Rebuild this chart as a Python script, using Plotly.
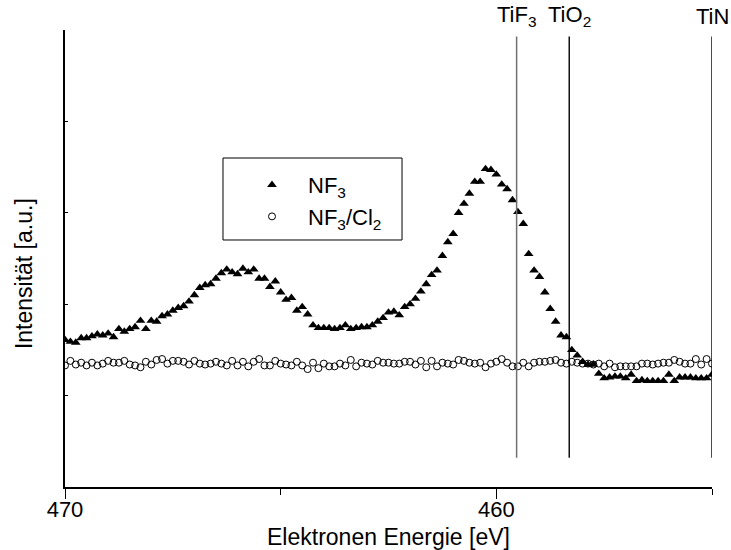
import plotly.graph_objects as go

# Ti 2p binding-energy scan: 470 eV down to 455 eV, 0.125 eV steps
E_START = 470.0
E_STEP = 0.125
N_POINTS = 121
energy = [round(E_START - E_STEP * i, 3) for i in range(N_POINTS)]

# NF3-treated sample (arbitrary intensity units)
nf3 = [
    1.61, 1.59, 1.58, 1.63, 1.63, 1.65, 1.67, 1.66, 1.68, 1.64,
    1.73, 1.70, 1.73, 1.75, 1.82, 1.73, 1.82, 1.81, 1.87, 1.89,
    1.93, 1.96, 1.98, 2.03, 2.10, 2.18, 2.21, 2.22, 2.28, 2.34,
    2.38, 2.35, 2.33, 2.39, 2.35, 2.38, 2.28, 2.28, 2.19, 2.25,
    2.13, 2.05, 2.07, 1.93, 1.97, 1.89, 1.77, 1.74, 1.74, 1.74,
    1.73, 1.74, 1.77, 1.73, 1.74, 1.75, 1.75, 1.77, 1.81, 1.85,
    1.91, 1.92, 1.88, 1.97, 2.00, 2.06, 2.14, 2.22, 2.32, 2.37,
    2.53, 2.68, 2.77, 3.00, 3.10, 3.21, 3.34, 3.34, 3.48, 3.47,
    3.42, 3.31, 3.26, 3.14, 3.01, 2.88, 2.55, 2.37, 2.30, 2.13,
    1.95, 1.81, 1.66, 1.64, 1.50, 1.44, 1.37, 1.34, 1.34, 1.24,
    1.19, 1.20, 1.21, 1.21, 1.19, 1.23, 1.16, 1.17, 1.16, 1.16,
    1.16, 1.16, 1.23, 1.16, 1.20, 1.20, 1.20, 1.19, 1.19, 1.19,
    1.23,
]

# NF3/Cl2-treated sample
nf3_cl2 = [
    1.33, 1.38, 1.34, 1.36, 1.33, 1.36, 1.33, 1.35, 1.38, 1.36,
    1.36, 1.38, 1.34, 1.33, 1.31, 1.37, 1.34, 1.39, 1.40, 1.35,
    1.38, 1.38, 1.37, 1.34, 1.38, 1.35, 1.34, 1.35, 1.37, 1.35,
    1.33, 1.38, 1.33, 1.37, 1.32, 1.37, 1.40, 1.33, 1.33, 1.38,
    1.35, 1.34, 1.33, 1.37, 1.33, 1.29, 1.36, 1.30, 1.35, 1.32,
    1.32, 1.35, 1.33, 1.39, 1.32, 1.36, 1.35, 1.34, 1.38, 1.36,
    1.36, 1.35, 1.35, 1.37, 1.37, 1.34, 1.38, 1.31, 1.38, 1.32,
    1.36, 1.35, 1.34, 1.39, 1.38, 1.36, 1.35, 1.36, 1.31, 1.35,
    1.37, 1.40, 1.36, 1.32, 1.32, 1.36, 1.32, 1.36, 1.37, 1.37,
    1.38, 1.39, 1.36, 1.35, 1.37, 1.36, 1.35, 1.35, 1.34, 1.35,
    1.32, 1.35, 1.31, 1.32, 1.32, 1.32, 1.32, 1.35, 1.35, 1.34,
    1.35, 1.36, 1.36, 1.39, 1.37, 1.35, 1.35, 1.40, 1.34, 1.40,
    1.35,
]

# Reference binding energies
ref_labels = ["TiF<sub>3</sub>", "TiO<sub>2</sub>", "TiN"]
ref_energy = [459.53, 458.31, 455.0]
ref_colors = ["#707070", "#000000", "#000000"]
ref_widths = [1.5, 1.4, 1.4]

FONT = "Liberation Sans, Arial, sans-serif"

fig = go.Figure()
fig.add_trace(go.Scatter(
    x=energy, y=nf3, mode="markers", name="NF<sub>3</sub>",
    marker=dict(symbol="triangle-up", size=8.5, color="black", line=dict(width=0)),
))
fig.add_trace(go.Scatter(
    x=energy, y=nf3_cl2, mode="markers", name="NF<sub>3</sub>/Cl<sub>2</sub>",
    marker=dict(symbol="circle-open", size=7, color="black", line=dict(width=1)),
))

for lab, e, c, w in zip(ref_labels, ref_energy, ref_colors, ref_widths):
    fig.add_shape(type="line", xref="x", yref="y", x0=e, x1=e, y0=0.32, y1=4.93,
                  line=dict(color=c, width=w))
    fig.add_annotation(x=e, xref="x", y=1, yref="paper", text=lab, showarrow=False,
                       xanchor="center", yanchor="middle", yshift=14,
                       font=dict(family=FONT, size=22, color="black"))

# legend frame
fig.add_shape(type="rect", xref="paper", yref="paper",
              x0=0.2442, x1=0.5209, y0=0.5405, y1=0.7199,
              line=dict(color="black", width=1), fillcolor="rgba(0,0,0,0)")

# rotated y-axis title
fig.add_annotation(x=-0.0634, xref="paper", y=0.468, yref="paper",
                   text="Intensität [a.u.]", textangle=-90, showarrow=False,
                   xanchor="center", yanchor="middle",
                   font=dict(family=FONT, size=23, color="black"))

fig.update_layout(
    width=731, height=550,
    margin=dict(l=65, r=19, t=30, b=63),
    paper_bgcolor="white", plot_bgcolor="white",
    font=dict(family=FONT, size=22, color="black"),
    showlegend=True,
    legend=dict(x=0.2643, y=0.7068, xanchor="left", yanchor="top",
                bgcolor="rgba(0,0,0,0)", borderwidth=0, itemwidth=62,
                font=dict(family=FONT, size=22, color="black")),
    xaxis=dict(
        range=[470, 455], tick0=470, dtick=10, ticks="outside", ticklen=10,
        tickwidth=1.3, tickcolor="black", showline=True, linecolor="black", linewidth=1.5,
        showgrid=False, zeroline=False, mirror=False, automargin=False,
        ticklabelstandoff=-8,
        tickfont=dict(family=FONT, size=22, color="black"),
        minor=dict(dtick=5, tick0=470, ticks="outside", ticklen=6, tickcolor="black", tickwidth=1.3),
        title=dict(text="Elektronen Energie [eV]", standoff=12,
                   font=dict(family=FONT, size=23, color="black")),
    ),
    yaxis=dict(
        range=[0, 5], tick0=0, dtick=1, ticks="inside", ticklen=3,
        tickcolor="black", tickwidth=1, showticklabels=False,
        showline=True, linecolor="black", linewidth=1.5,
        showgrid=False, zeroline=False, mirror=False, automargin=False,
    ),
)

fig.write_html("out.html")
